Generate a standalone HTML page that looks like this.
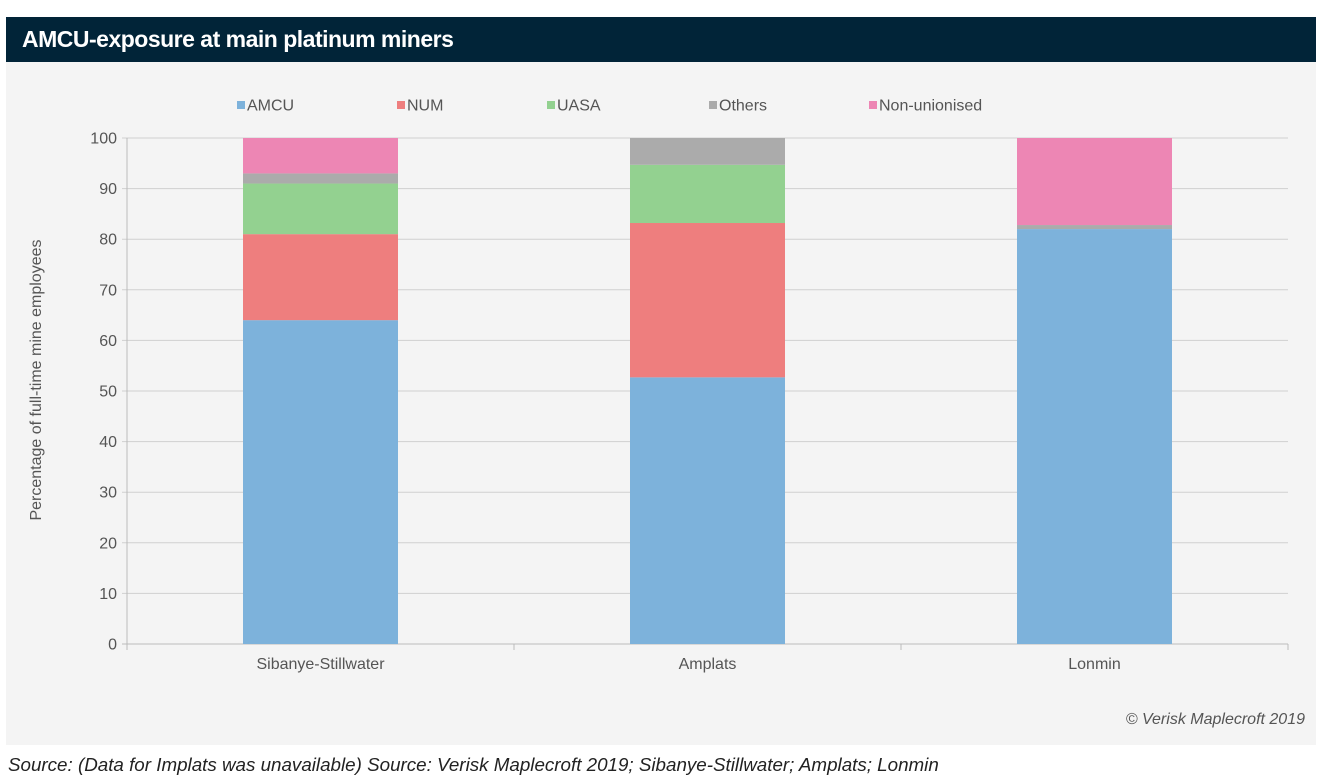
<!DOCTYPE html>
<html><head><meta charset="utf-8"><style>
body{margin:0;width:1324px;height:784px;background:#fff;font-family:"Liberation Sans",Arial,sans-serif;overflow:hidden;position:relative}
#title{position:absolute;left:6px;top:17px;width:1310px;height:45px;background:#012438;color:#fff;font-weight:bold;font-size:23px;line-height:45px;box-sizing:border-box;padding-left:16px;letter-spacing:-0.5px}
#panel{position:absolute;left:6px;top:62px;width:1310px;height:683px;background:#f4f4f4}
#source{position:absolute;left:8px;top:754px;font-size:18.8px;font-style:italic;color:#222;white-space:nowrap}
</style></head><body>
<div id="title">AMCU-exposure at main platinum miners</div>
<div id="panel"></div>
<svg id="chart" width="1324" height="784" style="position:absolute;left:0;top:0"></svg>
<div id="source">Source: (Data for Implats was unavailable) Source: Verisk Maplecroft 2019; Sibanye-Stillwater; Amplats; Lonmin</div>
<script>
const categories=["Sibanye-Stillwater","Amplats","Lonmin"];
const seriesNames=["AMCU","NUM","UASA","Others","Non-unionised"];
const amcu=[64,52.7,82];
const num=[17,30.5,0];
const uasa=[10,11.5,0];
const others=[2,5.3,0.8];
const nonUnion=[7,0,17.2];
const yTicks=[0,10,20,30,40,50,60,70,80,90,100];
const colors=["#7db2db","#ee7e7e","#93d190","#ababab","#ed86b4"];
const series=[amcu,num,uasa,others,nonUnion];
const NS="http://www.w3.org/2000/svg";
const svg=document.getElementById('chart');
const x0=127,x1=1288,yBase=644,yTop=138;
const y=v=>yBase-(v/100)*(yBase-yTop);
const band=(x1-x0)/categories.length;
const xc=i=>x0+band*(i+0.5);
const barW=155;
function mk(t,a){const e=document.createElementNS(NS,t);for(const k in a)e.setAttribute(k,a[k]);svg.appendChild(e);return e;}
yTicks.forEach(t=>{
  const g=mk('line',{x1:x0-5,x2:x1,y1:y(t),y2:y(t),stroke:t===0?'#bbb':'#d0d0d0','stroke-width':1});
  
  
  const l=mk('text',{x:x0-10,y:y(t)+5.5,'text-anchor':'end','font-size':16,fill:'#555','font-family':'Liberation Sans, sans-serif'});
  l.textContent=t;
  
  
});
const ax=mk('line',{x1:x0,x2:x0,y1:yTop,y2:yBase+5,stroke:'#bbb'});


for(let i=0;i<=categories.length;i++){
  const tk=mk('line',{x1:x0+band*i,x2:x0+band*i,y1:yBase,y2:yBase+6,stroke:'#bbb'});
  
  
}
categories.forEach((c,i)=>{
  let acc=0;
  series.forEach((s,j)=>{
    const v=s[i];if(v<=0)return;
    const r=mk('rect',{x:xc(i)-barW/2,y:y(acc+v),width:barW,height:y(acc)-y(acc+v),fill:colors[j]});
    
    
    acc+=v;
  });
  const t=mk('text',{x:xc(i),y:669,'text-anchor':'middle','font-size':16,fill:'#555','font-family':'Liberation Sans, sans-serif'});
  t.textContent=c;
  
  
});
const legX=[237,397,547,709,869];
seriesNames.forEach((n,j)=>{
  const r=mk('rect',{x:legX[j],y:101,width:8,height:8,fill:colors[j]});
  
  
  const t=mk('text',{x:legX[j]+10,y:110.5,'font-size':16,fill:'#555','font-family':'Liberation Sans, sans-serif'});
  t.textContent=n;
  
  
});
const yt=mk('text',{x:0,y:0,transform:'translate(41,380) rotate(-90)','text-anchor':'middle','font-size':16,fill:'#555','font-family':'Liberation Sans, sans-serif'});
yt.textContent='Percentage of full-time mine employees';


const cp=mk('text',{x:1305,y:724,'text-anchor':'end','font-size':16,'font-style':'italic',fill:'#555','font-family':'Liberation Sans, sans-serif'});
cp.textContent='© Verisk Maplecroft 2019';


</script>
</body></html>
